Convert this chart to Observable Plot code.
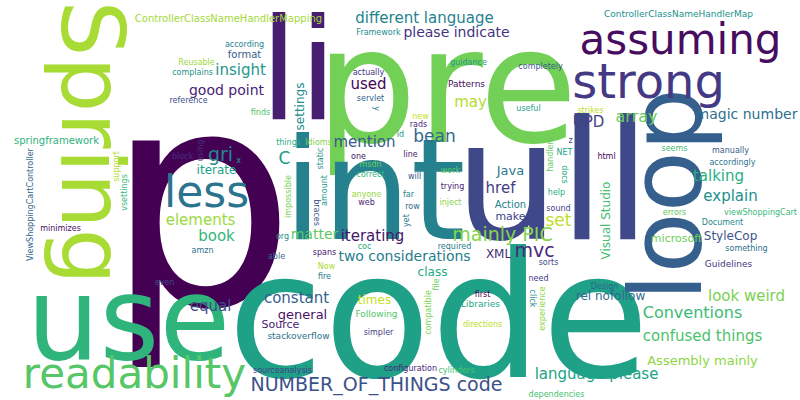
<!DOCTYPE html>
<html><head><meta charset="utf-8">
<script src="https://cdn.jsdelivr.net/npm/d3@7"></script>
<script src="https://cdn.jsdelivr.net/npm/@observablehq/plot@0.6"></script>
<style>body{margin:0;background:#fff}</style>
</head><body><div id="chart"></div>
<script>
// words and their weights (font size in px)
const words = ["p","code","ull","pre","int","li","use","loop","Spring","performance","strong","readability","less","assuming","based arrays",
  "NUMBER_OF_THINGS code","mainly PIC","gri","mvc","Conventions","bean","set","C","UPD","array","two considerations","iterating","talking","mention",
  "elements","explain","please indicate","confused things","magic number","used","language please","equal","look weird","different language",
  "good point","book","constant","may","insight","href","matter","Java","general","class","StyleCop","Assembly mainly","settings","XML","Visual Studio",
  "rel nofollow","times","iterate","make","microsoft","Action","Source","springframework","format","ControllerClassNameHandlerMapping",
  "ControllerClassNameHandlerMap","Guidelines","Following","stackoverflow","Patterns","Libraries","reference","Idioms","Document","configuration",
  "viewShoppingCart","ViewShoppingCartController","directions","guidance","sourceanalysis","handlers","required","spans","things","completely","anyone",
  "Framework","using","cylinders","something","first","useful","sorts","impossible","according","trying","correct","servlet","Now","id","need","work",
  "accordingly","minimizes","docs","braces","inject","click","rads","seems","able","strikes","amount","sound","msdn","fire","line","help","manually",
  "Reusable","complains","actually","finds","amzn","html","NET","even","compatible","far","web","vsettings","Design","support","static","simpler","errors",
  "yet","one","coc","will","experience","org","block","dependencies","row","new","x","z","file","y"];
const sizes = [300,175,165,160,140,140,115,100,88,60,48,42,44,42,36,
  19,19,19,19,16,17,17,17,15,16,14,15,15,15,
  15,15,14,15,14,15,15,15,15,15,
  14,15,15,15,15,15,14,13,13,12,12,13,12,12,12,
  12,12,12,11,11,10,11,10,10,10,
  9,9,9,9,9,9,8,8,8,8,
  8,8,8,8,8,8,8,8,8,8,8,
  8,8,8,8,8,8,8,8,8,8,8,8,8,8,8,8,8,
  8,8,8,8,8,8,8,8,8,8,8,8,8,8,8,8,8,
  8,8,8,8,8,8,8,8,8,8,8,8,8,8,8,8,8,
  8,8,8,8,8,8,8,8,8,8,8,8,8,8];
const vertical = new Set(["loop","Spring","settings","Visual Studio","ViewShoppingCartController","handlers","braces","docs","click","using",
  "impossible","experience","static","vsettings","support","amount","y","file","yet","compatible"]);
const downward = new Set(["Spring","braces","click","docs","y"]);

const W = 800, H = 400, font = "DejaVu Sans", G = 2;
const GW = W / G, GH = H / G;
const mask = new Uint8Array(GW * GH);
let seed = 11;
const rnd = () => (seed = (seed * 16807) % 2147483647) / 2147483647;

function sprite(w, s, ang) {
  const c = document.createElement("canvas");
  const probe = c.getContext("2d");
  probe.font = `${s}px "${font}"`;
  const tw = probe.measureText(w).width;
  const R = Math.ceil(Math.max(tw, s * 1.3) / 2) + 4;
  c.width = c.height = 2 * R;
  const g = c.getContext("2d");
  g.font = `${s}px "${font}"`;
  g.textAlign = "center";
  g.translate(R, R);
  g.rotate(ang * Math.PI / 180);
  g.fillText(w, 0, 0.32 * s);
  const px = g.getImageData(0, 0, 2 * R, 2 * R).data;
  const cells = new Set();
  for (let y = 0; y < 2 * R; y++) for (let x = 0; x < 2 * R; x++)
    if (px[(y * 2 * R + x) * 4 + 3] > 20) cells.add(Math.floor((x - R) / G) + "," + Math.floor((y - R) / G));
  return [...cells].map(k => k.split(",").map(Number));
}
function fits(cells, gx, gy) {
  for (const [dx, dy] of cells) {
    const x = gx + dx, y = gy + dy;
    if (x < 0 || y < 0 || x >= GW || y >= GH || mask[y * GW + x]) return false;
  }
  return true;
}
const data = [];
words.forEach((w, i) => {
  const s = sizes[i];
  const ang = vertical.has(w) ? (downward.has(w) ? 90 : -90) : 0;
  const cells = sprite(w, s, ang);
  // dilate by one cell for padding
  const pad = new Set();
  cells.forEach(([x, y]) => { for (let a = -1; a <= 1; a++) for (let b = -1; b <= 1; b++) pad.add((x + a) + "," + (y + b)); });
  const test = [...pad].map(k => k.split(",").map(Number));
  const sx = GW / 2 + (rnd() - 0.5) * GW * 0.5, sy = GH / 2 + (rnd() - 0.5) * GH * 0.4;
  for (let t = 0; t < 600; t += 0.05) {
    const gx = Math.round(sx + 2 * t * Math.cos(t)), gy = Math.round(sy + t * Math.sin(t));
    if (fits(test, gx, gy)) {
      cells.forEach(([dx, dy]) => { mask[(gy + dy) * GW + gx + dx] = 1; });
      data.push({w, s, rot: ang, x: gx * G, y: gy * G, c: d3.interpolateViridis(((i * 0.6180339) % 1) * 0.92)});
      break;
    }
  }
});

const chart = Plot.plot({
  width: W, height: H, margin: 0,
  x: {domain: [0, W], axis: null},
  y: {domain: [0, H], axis: null},
  style: {background: "#fff"},
  marks: [
    Plot.text(data, {x: "x", y: "y", text: "w", fontSize: d => d.s, rotate: "rot", fill: "c",
      fontFamily: font, textAnchor: "middle", lineAnchor: "middle"})
  ]
});
d3.select("#chart").append(() => chart);
</script></body></html>
